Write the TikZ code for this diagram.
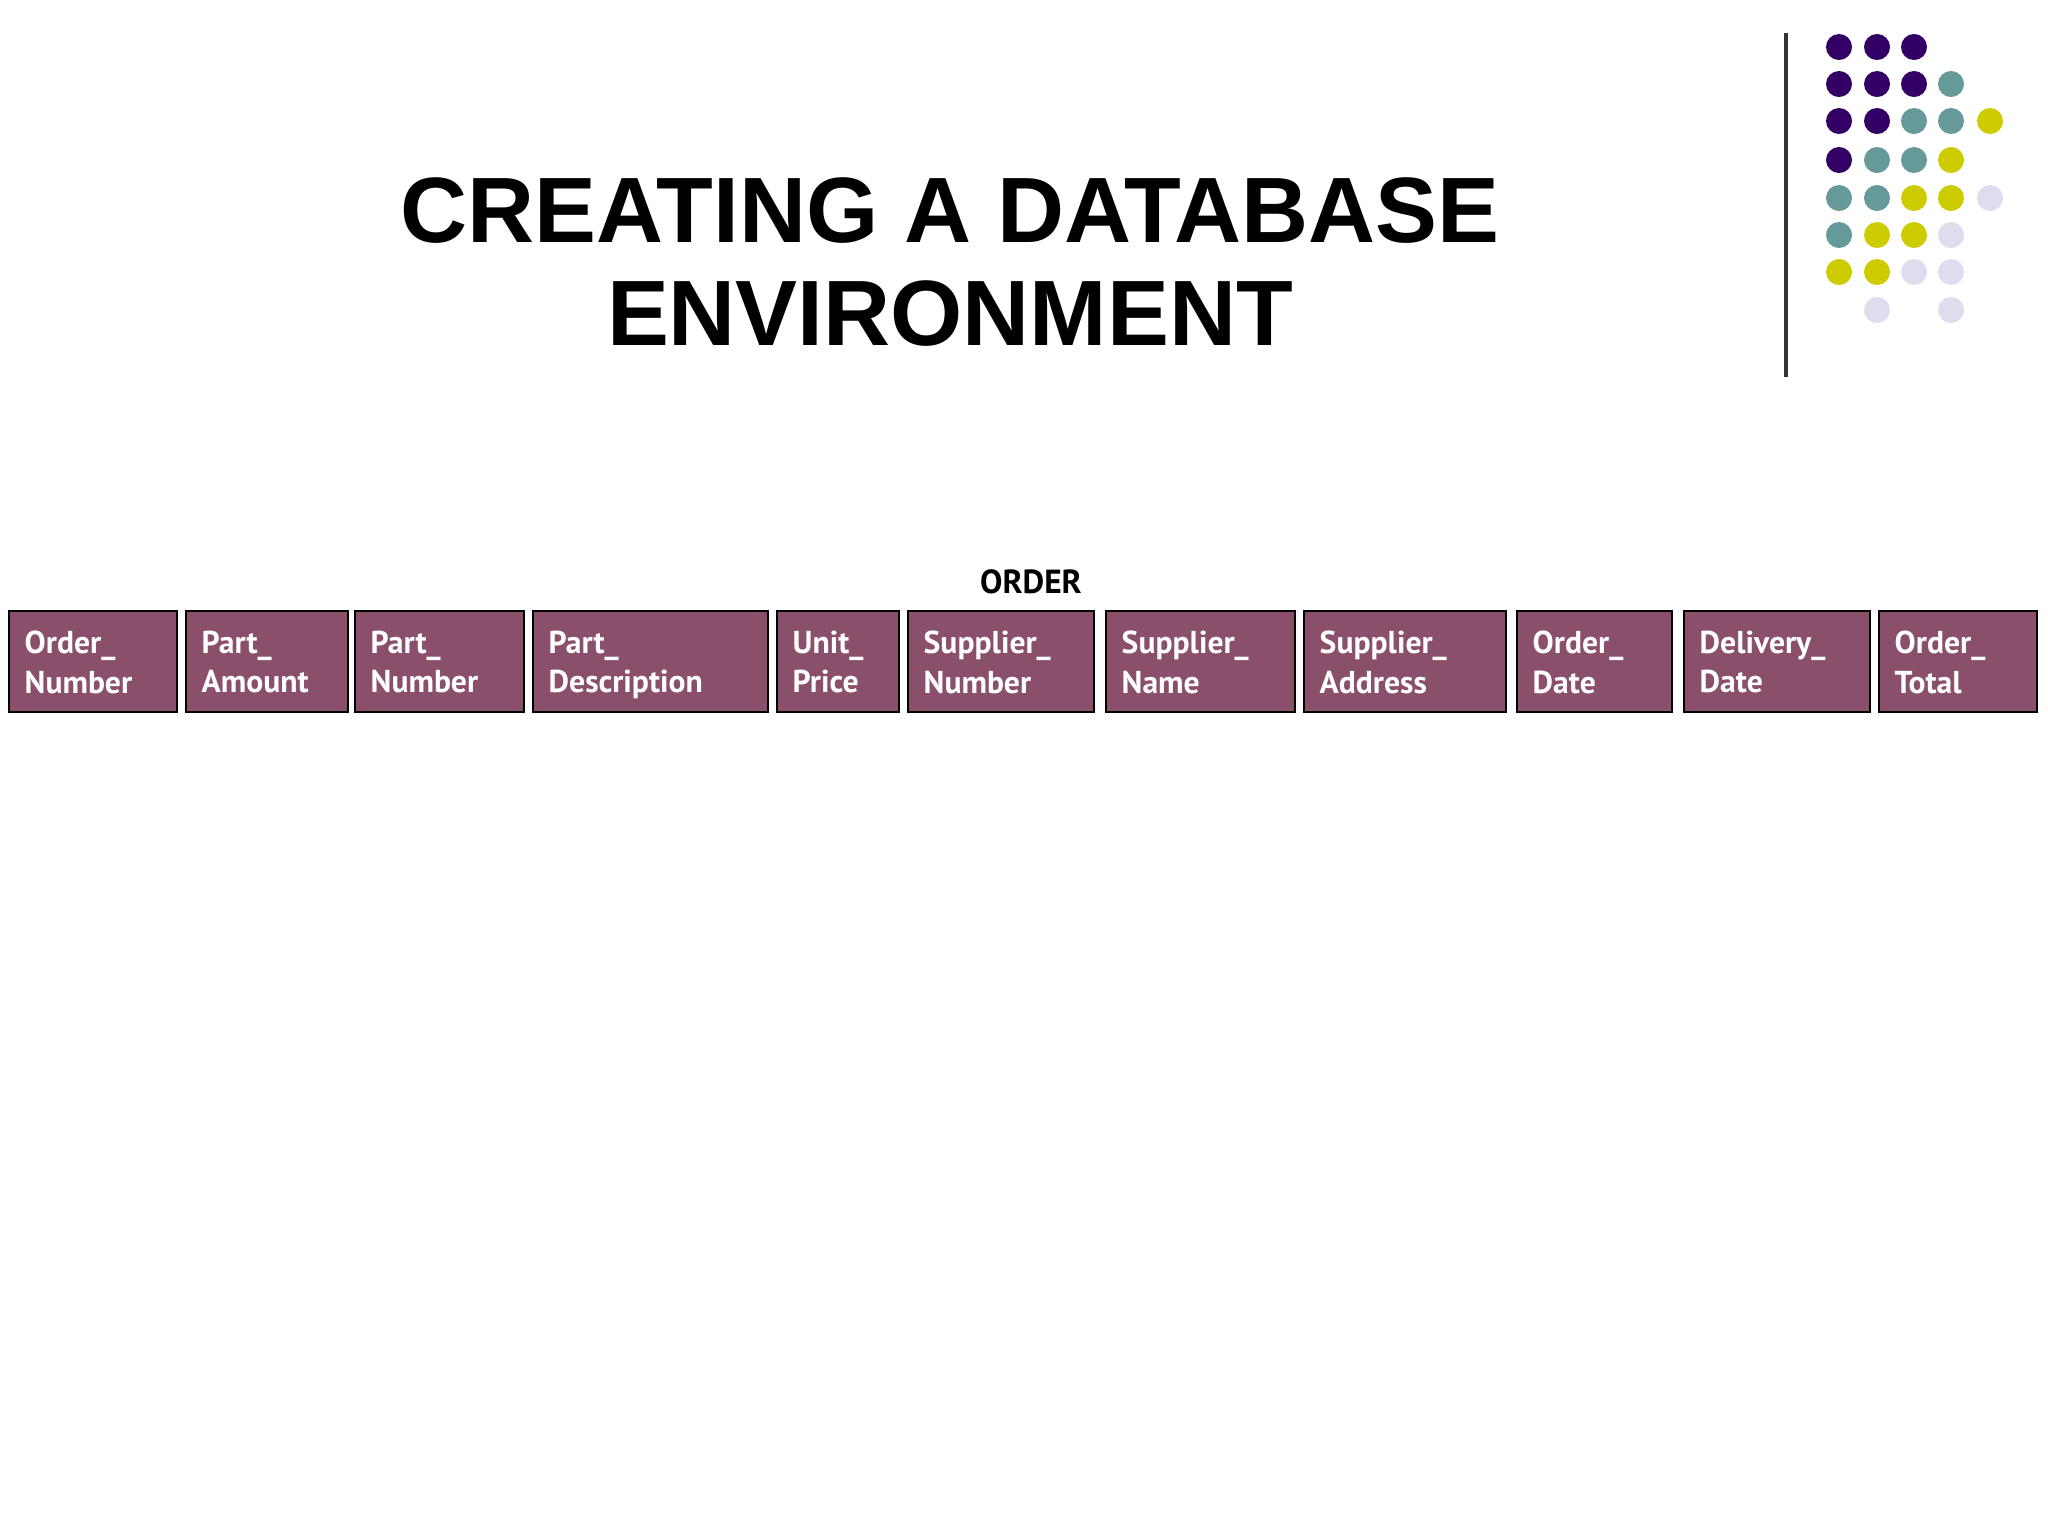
\documentclass[tikz,border=0pt]{standalone}
\usepackage{fontspec}
\setmainfont{Liberation Sans}
\newfontfamily\boxfont{PT Sans}
\definecolor{boxc}{HTML}{8A4F6B}
\definecolor{dp}{HTML}{330066}
\definecolor{dt}{HTML}{669999}
\definecolor{dy}{HTML}{CCCC00}
\definecolor{dl}{HTML}{DDDDEE}
\begin{document}
\begin{tikzpicture}[x=0.01cm,y=-0.01cm,
  fld/.style={draw=black,line width=0.6pt,fill=boxc,anchor=north west,inner sep=0pt},
  ftxt/.style={anchor=north west,text=white,font=\boxfont\bfseries\fontsize{9}{11.3}\selectfont,align=left,inner sep=0pt},
  dot/.style={circle,inner sep=0pt,minimum size=0.26cm}]
\useasboundingbox (0,0) rectangle (2048,1536);
\node[font=\bfseries\fontsize{26.4}{29.5}\selectfont,align=center] (title) at (950,262) {CREATING A DATABASE\\ENVIRONMENT};
\coordinate (lt) at (1786,33); \coordinate (lb) at (1786,377);
\draw[line width=1pt,black!80] (lt) -- (lb);
% dots
\foreach \c/\x/\y in {dp/1839/47,dp/1877/47,dp/1914/47,
 dp/1839/84,dp/1877/84,dp/1914/84,dt/1951/84,
 dp/1839/121,dp/1877/121,dt/1914/121,dt/1951/121,dy/1990/121,
 dp/1839/160,dt/1877/160,dt/1914/160,dy/1951/160,
 dt/1839/198,dt/1877/198,dy/1914/198,dy/1951/198,dl/1990/198,
 dt/1839/235,dy/1877/235,dy/1914/235,dl/1951/235,
 dy/1839/272,dy/1877/272,dl/1914/272,dl/1951/272,
 dl/1877/310,dl/1951/310}
 \node[dot,fill=\c] at (\x,\y) {};
\node[font=\boxfont\bfseries\fontsize{9.5}{11}\selectfont] (order) at (1031,582) {ORDER};
\foreach \n/\a/\b/\t in {1/8/176/{Order\_\\Number},2/185/347/{Part\_\\Amount},3/354/523/{Part\_\\Number},
 4/532/767/{Part\_\\Description},5/776/898/{Unit\_\\Price},6/907/1093/{Supplier\_\\Number},
 7/1105/1294/{Supplier\_\\Name},8/1303/1505/{Supplier\_\\Address},9/1516/1671/{Order\_\\Date},
 10/1683/1869/{Delivery\_\\Date},11/1878/2036/{Order\_\\Total}}{
 \pgfmathsetmacro\w{(\b-\a)*0.01}
 \node[fld,minimum width=\w cm,minimum height=1.01cm] (f\n) at (\a,610) {};
 \node[ftxt] (t\n) at ([xshift=0.16cm,yshift=-0.2cm]f\n.north west) {\t};
}
\end{tikzpicture}
\end{document}
